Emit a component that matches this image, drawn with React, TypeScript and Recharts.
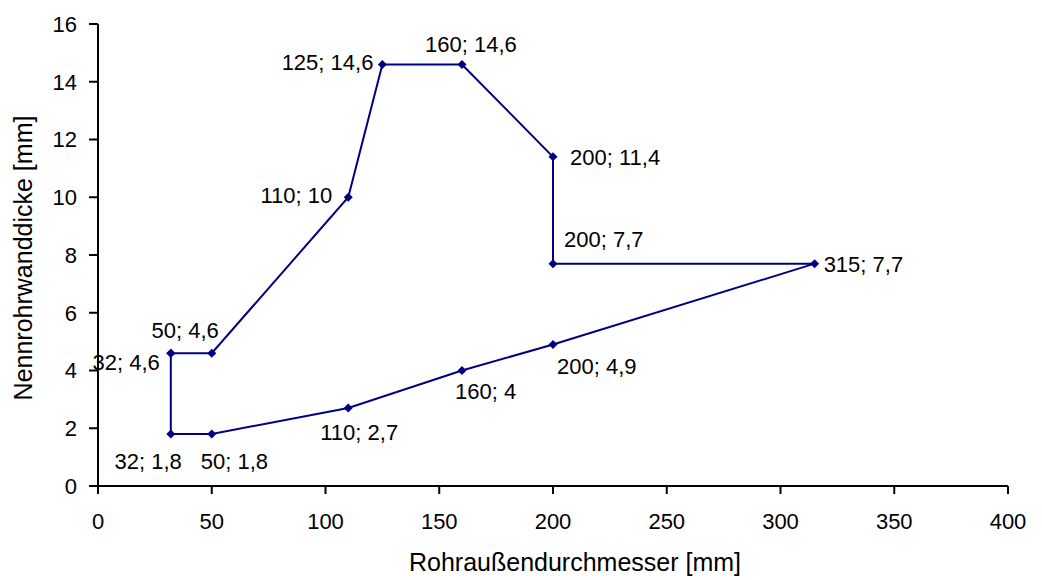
import React from "react"
import { ScatterChart, Scatter, XAxis, YAxis } from "recharts"

// Rohraußendurchmesser [mm] / Nennrohrwanddicke [mm], Reihenfolge = Umriss (geschlossen)
const xValues = [32, 32, 50, 110, 160, 200, 315, 200, 200, 160, 125, 110, 50, 32]
const yValues = [4.6, 1.8, 1.8, 2.7, 4.0, 4.9, 7.7, 7.7, 11.4, 14.6, 14.6, 10, 4.6, 4.6]

const xTicks = [0, 50, 100, 150, 200, 250, 300, 350, 400]
const yTicks = [0, 2, 4, 6, 8, 10, 12, 14, 16]

const xTitle = "Rohraußendurchmesser [mm]"
const yTitle = "Nennrohrwanddicke [mm]"

// where each point label sits relative to its marker (last point closes the outline, no label)
const labelPlacement: ({ anchor: "start" | "middle" | "end"; dx: number; dy: number } | null)[] = [
  { anchor: "end", dx: -11, dy: 9 },
  { anchor: "end", dx: 11, dy: 27 },
  { anchor: "start", dx: -11, dy: 27 },
  { anchor: "start", dx: -28, dy: 24 },
  { anchor: "start", dx: -7, dy: 21 },
  { anchor: "start", dx: 4, dy: 22 },
  { anchor: "start", dx: 9, dy: 0 },
  { anchor: "start", dx: 11, dy: -25 },
  { anchor: "start", dx: 17, dy: 0 },
  { anchor: "start", dx: -37, dy: -20 },
  { anchor: "end", dx: -9, dy: -2 },
  { anchor: "end", dx: -16, dy: -2 },
  { anchor: "end", dx: 7, dy: -23 },
  null,
]

const FONT = "'Liberation Sans', Arial, sans-serif"
const NAVY = "#000080"
const LABEL_SIZE = 22

const data = xValues.map((x, i) => ({ x, y: yValues[i], idx: i }))

function fmt(v: number) {
  return String(v).replace(".", ",")
}

function PointShape(props: any) {
  const { cx, cy, payload } = props
  const place = labelPlacement[payload.idx]
  const r = 4.5
  return (
    <g>
      <polygon
        points={`${cx},${cy - r} ${cx + r},${cy} ${cx},${cy + r} ${cx - r},${cy}`}
        fill={NAVY}
      />
      {place && (
        <text
          x={cx + place.dx}
          y={cy + place.dy + LABEL_SIZE * 0.36}
          textAnchor={place.anchor}
          fontFamily={FONT}
          fontSize={LABEL_SIZE}
          fill="#000"
        >
          {`${payload.x}; ${fmt(payload.y)}`}
        </text>
      )}
    </g>
  )
}

export default function App() {
  return (
    <div style={{ position: "absolute", left: 0, top: 0, background: "#fff" }}>
      <ScatterChart
        width={1042}
        height={580}
        margin={{ top: 24, right: 34, left: 0, bottom: 0 }}
      >
        <XAxis
          type="number"
          dataKey="x"
          domain={[0, 400]}
          ticks={xTicks}
          interval={0}
          height={94}
          tickSize={8}
          tickMargin={19}
          axisLine={{ stroke: "#000", strokeWidth: 2 }}
          tickLine={{ stroke: "#000", strokeWidth: 2 }}
          tick={{ fontSize: 22, fill: "#000", fontFamily: FONT }}
          label={{
            content: (p: any) => {
              const vb = p.viewBox
              return (
                <text
                  x={vb.x + vb.width / 2 + 22}
                  y={vb.y + vb.height - 9}
                  textAnchor="middle"
                  fontFamily={FONT}
                  fontSize={25}
                  fill="#000"
                >
                  {xTitle}
                </text>
              )
            },
          }}
        />
        <YAxis
          type="number"
          dataKey="y"
          domain={[0, 16]}
          ticks={yTicks}
          interval={0}
          width={98}
          tickSize={9}
          tickMargin={12}
          axisLine={{ stroke: "#000", strokeWidth: 2 }}
          tickLine={{ stroke: "#000", strokeWidth: 2 }}
          tick={{ fontSize: 22, fill: "#000", fontFamily: FONT }}
          label={{
            content: (p: any) => {
              const vb = p.viewBox
              const cx = 32
              const cy = vb.y + vb.height / 2 + 3
              return (
                <text
                  x={cx}
                  y={cy}
                  transform={`rotate(-90 ${cx} ${cy})`}
                  textAnchor="middle"
                  fontFamily={FONT}
                  fontSize={25}
                  fill="#000"
                >
                  {yTitle}
                </text>
              )
            },
          }}
        />
        <Scatter
          data={data}
          fill={NAVY}
          line={{ stroke: NAVY, strokeWidth: 2 }}
          lineType="joint"
          shape={<PointShape />}
          isAnimationActive={false}
        />
      </ScatterChart>
    </div>
  )
}
